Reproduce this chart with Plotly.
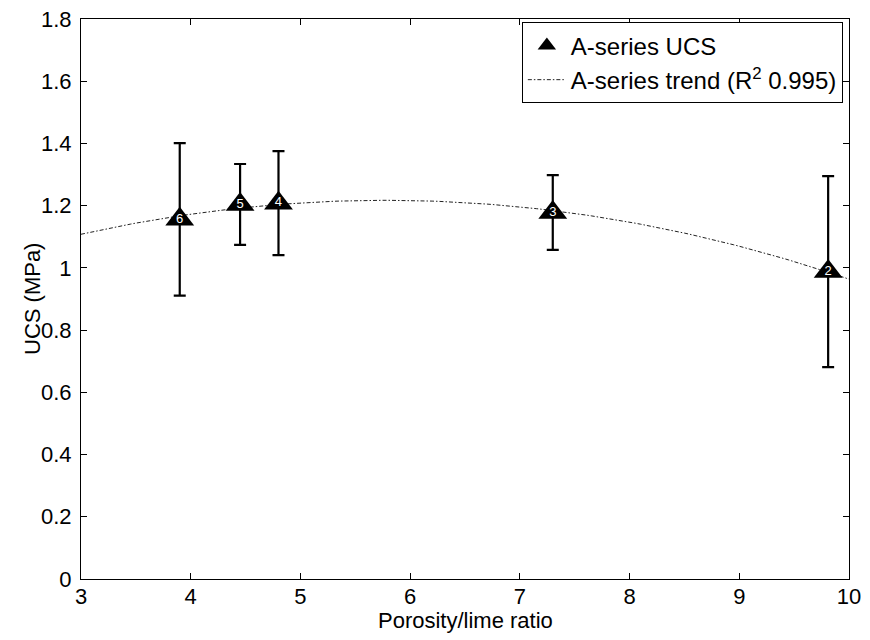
import numpy as np
import plotly.graph_objects as go

# Data
porosity_lime = [3.90, 4.45, 4.80, 7.30, 9.81]
ucs_mpa = [1.156, 1.204, 1.208, 1.178, 0.988]
ucs_err = [0.245, 0.130, 0.167, 0.120, 0.307]
sample_ids = ["6", "5", "4", "3", "2"]

x_ticks = [3, 4, 5, 6, 7, 8, 9, 10]
y_ticks = [0, 0.2, 0.4, 0.6, 0.8, 1.0, 1.2, 1.4, 1.6, 1.8]
y_tick_text = ["0", "0.2", "0.4", "0.6", "0.8", "1", "1.2", "1.4", "1.6", "1.8"]

# quadratic trend fitted to the data
coef = np.polyfit(porosity_lime, ucs_mpa, 2)
trend_x = np.linspace(3, 10, 141)
trend_y = np.polyval(coef, trend_x)

FONT = "Liberation Sans, Arial, Helvetica, sans-serif"

fig = go.Figure()

fig.add_trace(go.Scatter(
    x=trend_x, y=trend_y, mode="lines",
    name="A-series trend (R<sup>2</sup> 0.995)",
    line=dict(color="#222222", width=1, dash="4px,2px,1.5px,2px"),
    legendgroup="b", legendrank=2,
))

fig.add_trace(go.Scatter(
    x=porosity_lime, y=ucs_mpa, mode="markers+text",
    name="A-series UCS",
    text=sample_ids, textposition="middle center",
    textfont=dict(color="white", size=13, family=FONT),
    marker=dict(symbol="triangle-up", size=25, color="black"),
    error_y=dict(type="data", array=ucs_err, visible=True,
                 color="black", thickness=2.2, width=6),
    legendgroup="a", legendrank=1,
))

axis_common = dict(
    showline=True, linecolor="black", linewidth=1, mirror="ticks",
    ticks="inside", ticklen=6, tickcolor="black", tickwidth=1,
    showgrid=False, zeroline=False, automargin=False,
    ticklabeloverflow="allow",
    tickfont=dict(family=FONT, size=22, color="black"),
)

fig.update_xaxes(
    range=[3, 10], tickvals=x_ticks,
    ticklabelstandoff=-2,
    **axis_common,
)
fig.update_yaxes(
    range=[0, 1.8], tickvals=y_ticks, ticktext=y_tick_text,
    ticklabelstandoff=4,
    **axis_common,
)

fig.add_annotation(
    text="UCS (MPa)", textangle=-90, showarrow=False,
    xref="paper", yref="paper", x=0, y=0.5, xanchor="center", yanchor="middle",
    xshift=-49, font=dict(family=FONT, size=22, color="black"),
)
fig.add_annotation(
    text="Porosity/lime ratio", showarrow=False,
    xref="paper", yref="paper", x=0.5, y=0, xanchor="center", yanchor="middle",
    yshift=-41, font=dict(family=FONT, size=22, color="black"),
)

# the page body has an 8px margin, so the figure is sized/positioned to compensate
fig.update_layout(
    width=862, height=632,
    margin=dict(l=73, r=21, t=11, b=61),
    paper_bgcolor="white", plot_bgcolor="white",
    font=dict(family=FONT, color="black"),
    legend=dict(
        x=0.992, y=0.994, xanchor="right", yanchor="top",
        bgcolor="white", bordercolor="black", borderwidth=1,
        font=dict(family=FONT, size=24, color="black"),
        tracegroupgap=0, itemwidth=38,
    ),
    showlegend=True,
)

fig.write_html("out.html")
